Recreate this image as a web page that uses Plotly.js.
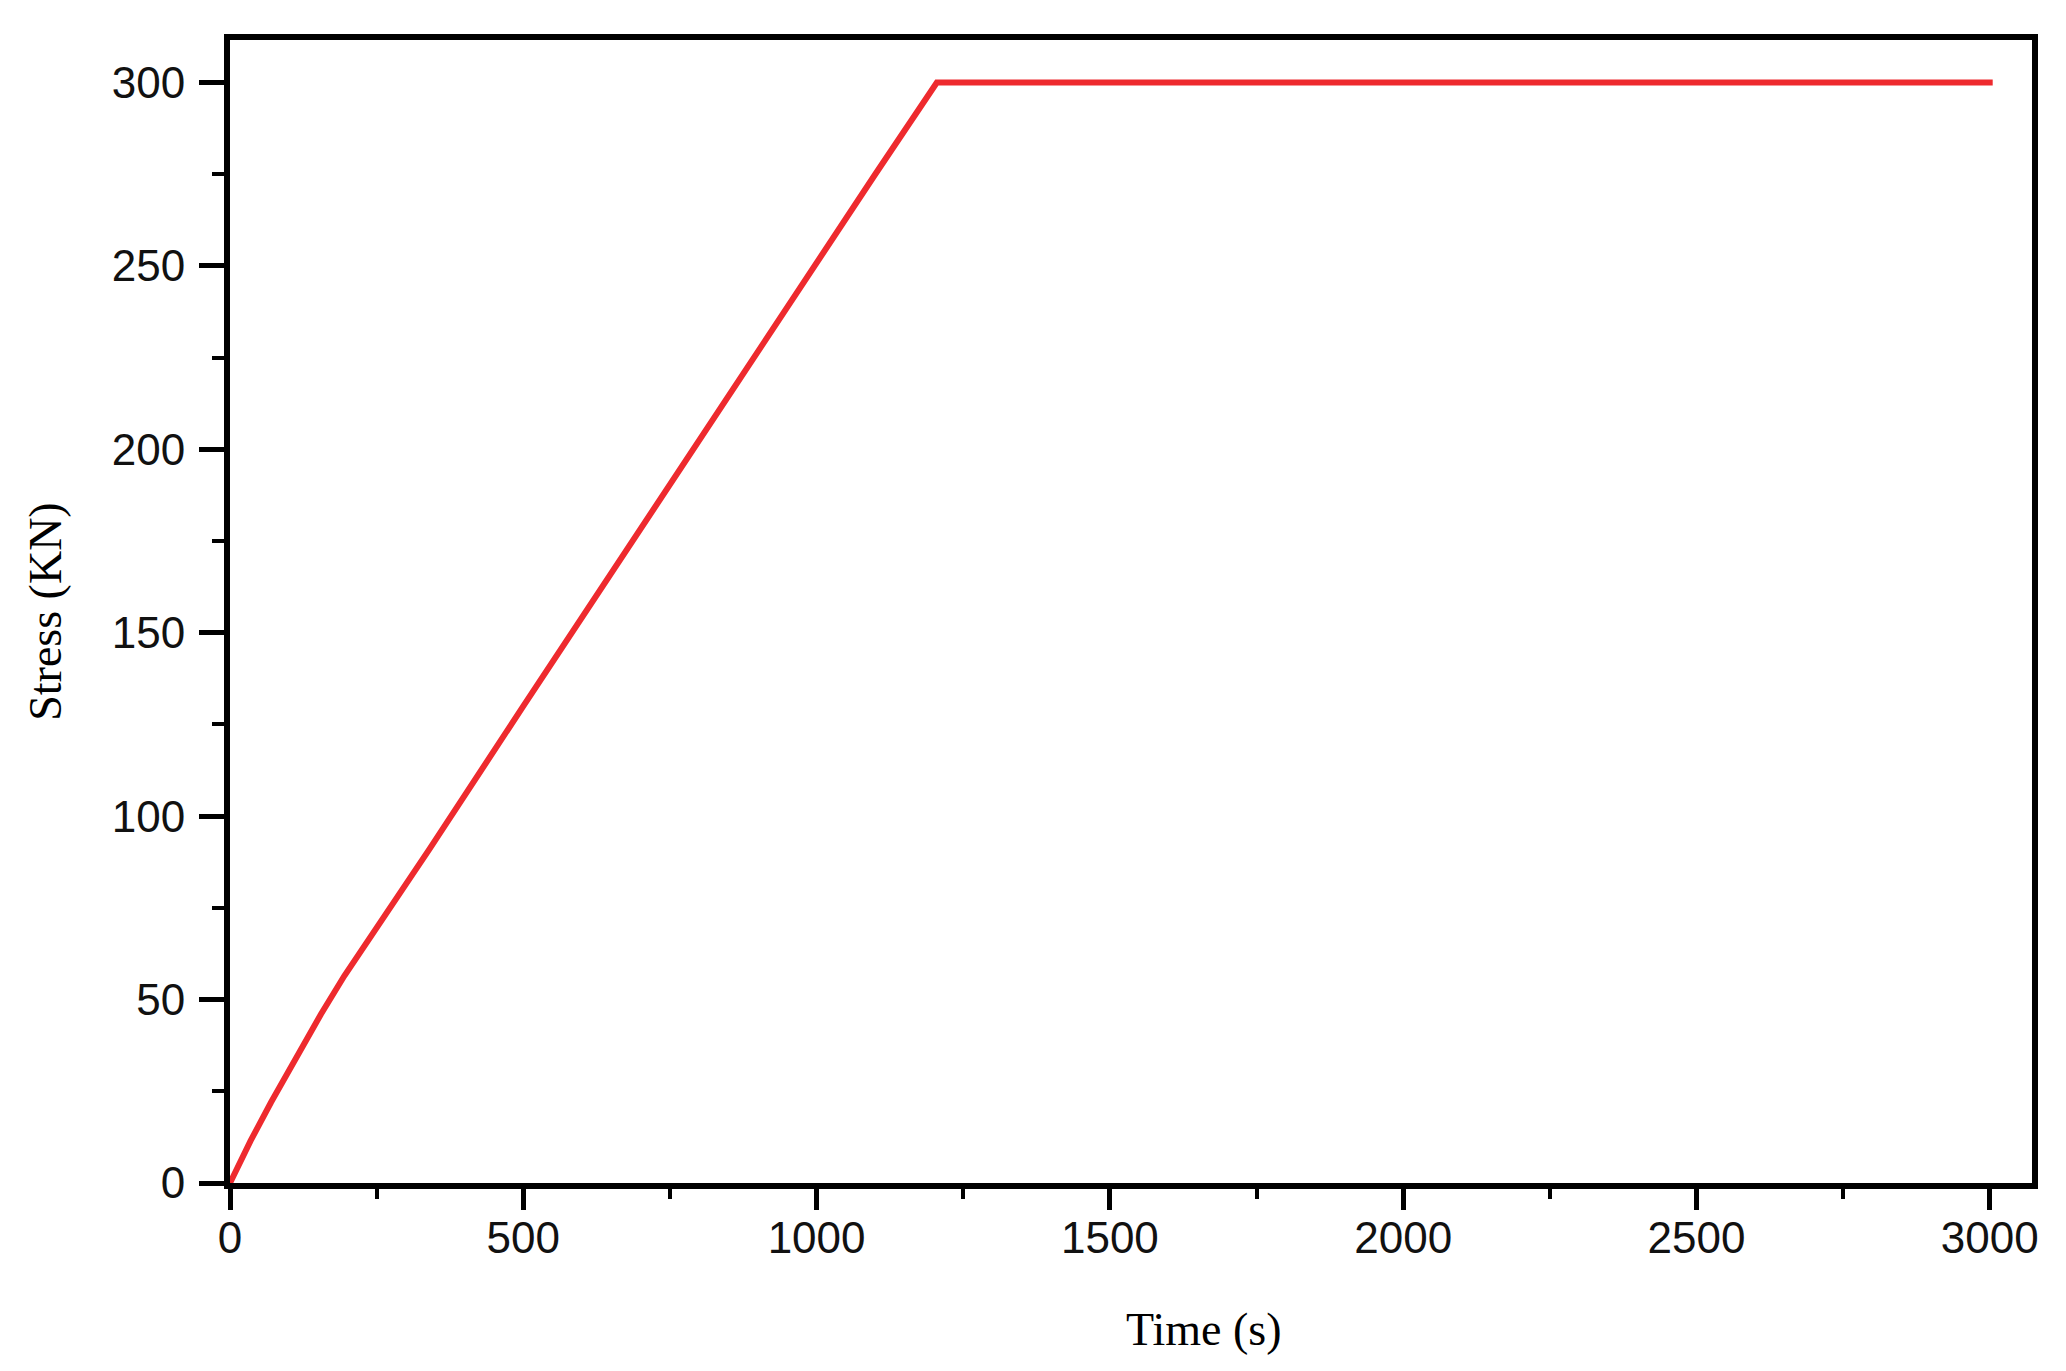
<!DOCTYPE html>
<html>
<head>
<meta charset="utf-8">
<script src="https://cdn.plot.ly/plotly-3.0.1.min.js"></script>
<style>
  html, body { margin: 0; padding: 0; background: #fff; }
  #chart { width: 2066px; height: 1371px; }
</style>
</head>
<body>
<div id="chart"></div>
<script>
// loading curve
var timeS = [0, 35, 70, 110, 155, 195, 240, 340, 500, 700, 900, 1100, 1205, 1500, 2000, 2500, 3005];
var stressKN = [0, 11.5, 22, 33.5, 46, 56.5, 67, 91, 130, 178.5, 227, 275, 300, 300, 300, 300, 300];

var xTicks = [0, 500, 1000, 1500, 2000, 2500, 3000];
var yTicks = [0, 50, 100, 150, 200, 250, 300];

var trace = {
  x: timeS,
  y: stressKN,
  type: 'scatter',
  mode: 'lines',
  line: { color: '#ee2a2e', width: 6 },
  hoverinfo: 'skip'
};

var tickFont = { family: 'Liberation Sans, Arial, sans-serif', size: 44, color: '#111' };
var titleFont = { family: 'Liberation Serif, Times New Roman, serif', size: 46, color: '#000' };

var layout = {
  width: 2066,
  height: 1371,
  margin: { l: 230, r: 34, t: 40, b: 188 },
  paper_bgcolor: '#fff',
  plot_bgcolor: '#fff',
  showlegend: false,
  xaxis: {
    range: [0, 3072],
    tickvals: xTicks,
    ticks: 'outside',
    ticklen: 21,
    tickwidth: 5,
    tickcolor: '#000',
    ticklabelstandoff: -10,
    showline: true,
    linewidth: 6,
    linecolor: '#000',
    mirror: true,
    showgrid: false,
    zeroline: false,
    tickfont: tickFont,
    minor: { dtick: 250, ticks: 'outside', ticklen: 10, tickwidth: 4, tickcolor: '#000', showgrid: false }
  },
  yaxis: {
    range: [0, 311.6],
    tickvals: yTicks,
    ticks: 'outside',
    ticklen: 25,
    tickwidth: 5,
    tickcolor: '#000',
    ticklabelstandoff: 5,
    showline: true,
    linewidth: 6,
    linecolor: '#000',
    mirror: true,
    showgrid: false,
    zeroline: false,
    tickfont: tickFont,
    minor: { dtick: 25, ticks: 'outside', ticklen: 12, tickwidth: 4, tickcolor: '#000', showgrid: false }
  },
  annotations: [
    {
      text: 'Time (s)',
      xref: 'paper', yref: 'paper',
      x: 0.5405, y: -0.128,
      xanchor: 'center', yanchor: 'middle',
      showarrow: false,
      font: titleFont
    },
    {
      text: 'Stress (KN)',
      xref: 'paper', yref: 'paper',
      x: -0.1025, y: 0.50,
      xanchor: 'center', yanchor: 'middle',
      textangle: -90,
      showarrow: false,
      font: titleFont
    }
  ]
};

Plotly.newPlot('chart', [trace], layout, { displayModeBar: false, staticPlot: true });
</script>
</body>
</html>
